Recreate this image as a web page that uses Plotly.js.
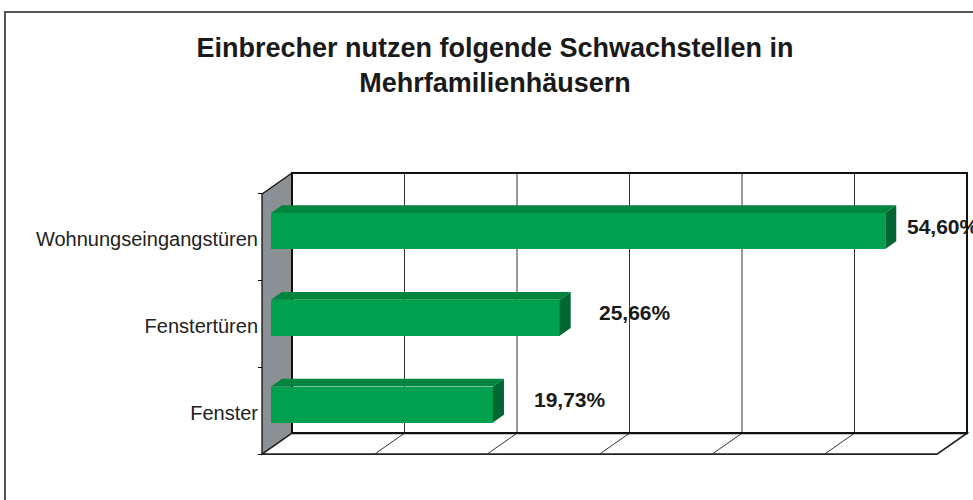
<!DOCTYPE html>
<html>
<head>
<meta charset="utf-8">
<script src="https://cdn.plot.ly/plotly-3.0.1.min.js"></script>
<style>html,body{margin:0;padding:0;background:#fff;}#chart{width:973px;height:500px;}</style>
</head>
<body>
<div id="chart"></div>
<script>
// ---- data ----
const categories = ['Wohnungseingangstüren', 'Fenstertüren', 'Fenster'];
const values = [54.60, 25.66, 19.73];
const gridTicks = [0, 10, 20, 30, 40, 50, 60];
const valueLabels = ['54,60%', '25,66%', '19,73%'];

// ---- geometry / style ----
const W = 973, H = 500;
const M = {l: 250, r: 0, t: 160, b: 35};
const plotW = W - M.l - M.r, plotH = H - M.t - M.b;
const pxPerPct = 11.25, pxPerCat = 86.75, slope = 0.7;
const barFrontDepth = 9, barDepth = 11, wallDepth = 30;
const frontLeftPx = 262, cat0Px = 231;
const barW = 36 / pxPerCat;
const labelGapPx = [20, 37, 39];
const labelRisePx = 5;

const xmin = (M.l - (frontLeftPx + barFrontDepth)) / pxPerPct;
const xmax = xmin + plotW / pxPerPct;
const ytop = (M.t - cat0Px) / pxPerCat;
const ybot = ytop + plotH / pxPerCat;

const cols = {front: '#00a04f', top: '#00853f', side: '#006632', wall: '#8b9095'};

// project (x %, y category, d px behind bar front plane)
function P(x, y, d) { return [x + d / pxPerPct, y - slope * d / pxPerCat]; }
function path(pts) { return 'M ' + pts.map(p => p[0] + ',' + p[1]).join(' L ') + ' Z'; }
const dF = -barFrontDepth, dB = wallDepth - barFrontDepth;
const xMax = gridTicks[gridTicks.length - 1];
const yA = -0.5, yB = categories.length - 0.5;

const shapes = [];
// left side wall
shapes.push({type: 'path', xref: 'x', yref: 'y', layer: 'below',
  path: path([P(0, yA, dF), P(0, yA, dB), P(0, yB, dB), P(0, yB, dF)]),
  fillcolor: cols.wall, line: {color: '#111', width: 1.3}});
// back wall
shapes.push({type: 'path', xref: 'x', yref: 'y', layer: 'below',
  path: path([P(0, yA, dB), P(xMax, yA, dB), P(xMax, yB, dB), P(0, yB, dB)]),
  fillcolor: '#ffffff', line: {color: '#111', width: 2}});
// floor
shapes.push({type: 'path', xref: 'x', yref: 'y', layer: 'below',
  path: path([P(0, yB, dF), P(xMax, yB, dF), P(xMax, yB, dB), P(0, yB, dB)]),
  fillcolor: '#ffffff', line: {color: '#222', width: 1.6}});
// grid lines on back wall and floor
gridTicks.slice(1, -1).forEach(t => {
  const a = P(t, yA, dB), b = P(t, yB, dB), c = P(t, yB, dF);
  shapes.push({type: 'line', xref: 'x', yref: 'y', layer: 'below', x0: a[0], y0: a[1], x1: b[0], y1: b[1], line: {color: '#333', width: 1}});
  shapes.push({type: 'line', xref: 'x', yref: 'y', layer: 'below', x0: b[0], y0: b[1], x1: c[0], y1: c[1], line: {color: '#333', width: 1}});
});
// back-floor edge drawn again (thick)
(function(){ const a = P(0, yB, dB), b = P(xMax, yB, dB);
  shapes.push({type: 'line', xref: 'x', yref: 'y', layer: 'below', x0: a[0], y0: a[1], x1: b[0], y1: b[1], line: {color: '#111', width: 2.2}}); })();
// bar top and side faces
values.forEach((v, i) => {
  const y0 = i - barW / 2, y1 = i + barW / 2;
  shapes.push({type: 'path', xref: 'x', yref: 'y', layer: 'above',
    path: path([P(0, y0, 0), P(v, y0, 0), P(v, y0, barDepth), P(0, y0, barDepth)]),
    fillcolor: cols.top, line: {width: 0}});
  shapes.push({type: 'path', xref: 'x', yref: 'y', layer: 'above',
    path: path([P(v, y0, 0), P(v, y1, 0), P(v, y1, barDepth), P(v, y0, barDepth)]),
    fillcolor: cols.side, line: {width: 0}});
});
// outer frame
const px2x = px => (px - M.l) / plotW, px2y = py => (H - M.b - py) / plotH;
shapes.push({type: 'rect', xref: 'paper', yref: 'paper', x0: px2x(5), x1: px2x(990), y0: px2y(12), y1: px2y(520),
  line: {color: '#555', width: 2}, fillcolor: 'rgba(0,0,0,0)'});

const frontShift = slope * barFrontDepth / pxPerCat;

const annotations = values.map((v, i) => ({
  x: v + labelGapPx[i] / pxPerPct, y: i - labelRisePx / pxPerCat, xref: 'x', yref: 'y',
  text: valueLabels[i], showarrow: false, xanchor: 'left', yanchor: 'middle',
  font: {family: 'Liberation Sans, Arial, sans-serif', size: 21, color: '#1a1a1a', weight: 'bold'}
}));

const trace = {
  type: 'bar', orientation: 'h', x: values, y: categories.map((c, i) => i),
  width: barW, marker: {color: cols.front, line: {width: 0}}, hoverinfo: 'skip'
};

const layout = {
  width: W, height: H, margin: M, paper_bgcolor: '#fff', plot_bgcolor: 'rgba(0,0,0,0)',
  showlegend: false,
  title: {text: 'Einbrecher nutzen folgende Schwachstellen in<br>Mehrfamilienhäusern',
    x: 495 / W, xref: 'container', xanchor: 'center', y: 1 - 57 / H, yref: 'container', yanchor: 'top',
    font: {family: 'Liberation Sans, Arial, sans-serif', size: 27, color: '#1a1a1a', weight: 'bold'}},
  xaxis: {range: [xmin, xmax], showgrid: false, zeroline: false, showticklabels: false, showline: false, ticks: '', fixedrange: true},
  yaxis: {range: [ybot, ytop], anchor: 'free', position: (frontLeftPx - M.l) / plotW,
    showgrid: false, zeroline: false, showline: false, ticks: '',
    tickmode: 'array', tickvals: categories.map((c, i) => i + frontShift + 2 / pxPerCat), ticktext: categories,
    ticklabelstandoff: 4,
    tickfont: {family: 'Liberation Sans, Arial, sans-serif', size: 20, color: '#222'},
    minor: {tickmode: 'array', tickvals: [yA, 0.5, 1.5, yB].map(v => v + frontShift), ticks: 'outside', ticklen: 4, tickcolor: '#111', tickwidth: 1},
    fixedrange: true},
  shapes: shapes, annotations: annotations, bargap: 0
};

Plotly.newPlot('chart', [trace], layout, {displayModeBar: false, staticPlot: true});
</script>
</body>
</html>
